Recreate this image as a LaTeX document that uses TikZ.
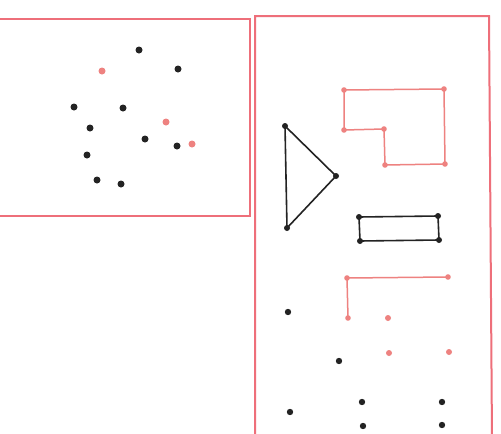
\documentclass[tikz,border=0pt]{standalone}
\begin{document}
\begin{tikzpicture}[x=1pt,y=-1pt,
  frame/.style={draw=frameC,line width=2pt},
  edgeO/.style={draw=dotO,line width=1.5pt},
  edgeK/.style={draw=dotK,line width=1.6pt},
  dk/.style={fill=dotK},
  dor/.style={fill=dotO}]
\definecolor{frameC}{HTML}{EE6F7A}
\definecolor{dotO}{HTML}{EE8280}
\definecolor{dotK}{HTML}{232323}
\useasboundingbox (0,0) rectangle (501,434);
\fill[white] (0,0) rectangle (501,434);
% frames
\draw[frame] (0,19) -- (250,19) -- (250,216) -- (0,216);
\draw[frame] (255,440) -- (255,16) -- (489,16) -- (492,440);
% left dots
\foreach \p in {(139,50),(178,69),(74,107),(123,108),(90,128),(145,139),(177,146),(87,155),(97,180),(121,184)}
  \fill[dk] \p circle (3.5);
\foreach \p in {(102,71),(166,122),(192,144)}
  \fill[dor] \p circle (3.5);
% orange polygon
\coordinate (p1) at (344,90);
\coordinate (p2) at (444,89);
\coordinate (p3) at (445,164);
\coordinate (p4) at (385,165);
\coordinate (p5) at (384,129);
\coordinate (p6) at (344,130);
\draw[edgeO] (p1) -- (p2) -- (p3) -- (p4) -- (p5) -- (p6) -- cycle;
\foreach \c in {p1,p2,p3,p4,p5,p6} \fill[dor] (\c) circle (2.8);
% triangle
\coordinate (t1) at (285,126);
\coordinate (t2) at (336,176);
\coordinate (t3) at (287,228);
\draw[edgeK] (t1) -- (t2) -- (t3) -- cycle;
\foreach \c in {t1,t2,t3} \fill[dk] (\c) circle (3.0);
% rectangle
\coordinate (r1) at (359,217);
\coordinate (r2) at (438,216);
\coordinate (r3) at (439,240);
\coordinate (r4) at (360,241);
\draw[edgeK] (r1) -- (r2) -- (r3) -- (r4) -- cycle;
\foreach \c in {r1,r2,r3,r4} \fill[dk] (\c) circle (3.0);
% orange polyline
\coordinate (q1) at (348,318);
\coordinate (q2) at (347,278);
\coordinate (q3) at (448,277);
\draw[edgeO] (q1) -- (q2) -- (q3);
\foreach \c in {q1,q2,q3} \fill[dor] (\c) circle (2.8);
\foreach \p in {(388,318),(389,353),(449,352)}
  \fill[dor] \p circle (3.0);
% bottom black dots
\foreach \p in {(288,312),(339,361),(290,412),(362,402),(442,402),(363,426),(442,425)}
  \fill[dk] \p circle (3.2);
\end{tikzpicture}
\end{document}
